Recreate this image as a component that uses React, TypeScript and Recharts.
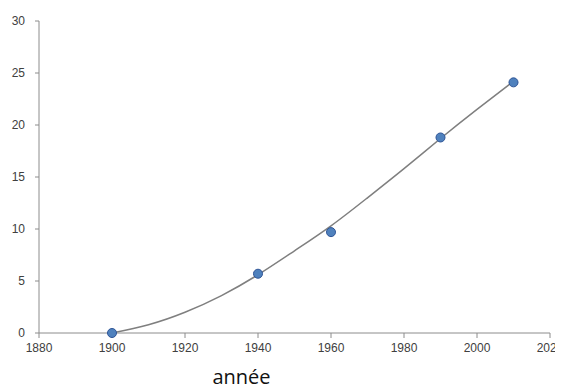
import { ComposedChart, Line, Scatter, XAxis, YAxis } from 'recharts';

const years = [1900, 1940, 1960, 1990, 2010];
const values = [0, 5.7, 9.7, 18.8, 24.1];

const trendYears = [1900, 1910, 1920, 1930, 1940, 1950, 1960, 1970, 1980, 1990, 2000, 2010];
const trendValues = [0, 0.8, 2.0, 3.6, 5.6, 7.9, 10.3, 13.0, 15.8, 18.7, 21.5, 24.2];

const xTicks = [1880, 1900, 1920, 1940, 1960, 1980, 2000, 2020];
const yTicks = [0, 5, 10, 15, 20, 25, 30];

const points = years.map((year, i) => ({ year, value: values[i] }));
const trend = trendYears.map((year, i) => ({ year, value: trendValues[i] }));

const tickStyle = { fontSize: 12, fill: '#404040', fontFamily: 'Liberation Sans, Arial, sans-serif' };

const App = () => {
  return (
    <div style={{ margin: -8, width: 563, height: 392, background: '#fff' }}>
      <ComposedChart width={563} height={392} margin={{ top: 21, right: 13, bottom: 0, left: 0 }}>
        <XAxis
          dataKey="year"
          type="number"
          domain={[1880, 2020]}
          ticks={xTicks}
          interval={0}
          height={59}
          stroke="#8c8c8c"
          tickLine={{ stroke: '#8c8c8c' }}
          tickSize={5}
          tickMargin={5}
          tick={tickStyle}
          label={{
            value: 'année',
            position: 'insideBottom',
            offset: 8,
            dx: -53,
            style: { fontSize: 20, fill: '#111', fontFamily: 'Open Sans, sans-serif' },
          }}
        />
        <YAxis
          type="number"
          domain={[0, 30]}
          ticks={yTicks}
          interval={0}
          width={39}
          stroke="#8c8c8c"
          tickLine={{ stroke: '#8c8c8c' }}
          tickSize={4}
          tickMargin={10}
          tick={tickStyle}
        />
        <Line
          data={trend}
          dataKey="value"
          type="natural"
          stroke="#7f7f7f"
          strokeWidth={1.5}
          dot={false}
          activeDot={false}
          isAnimationActive={false}
        />
        <Scatter
          data={points}
          dataKey="value"
          fill="#4f81bd"
          stroke="#2f5597"
          strokeWidth={1}
          shape="circle"
          isAnimationActive={false}
        />
      </ComposedChart>
    </div>
  );
};

export default App;
